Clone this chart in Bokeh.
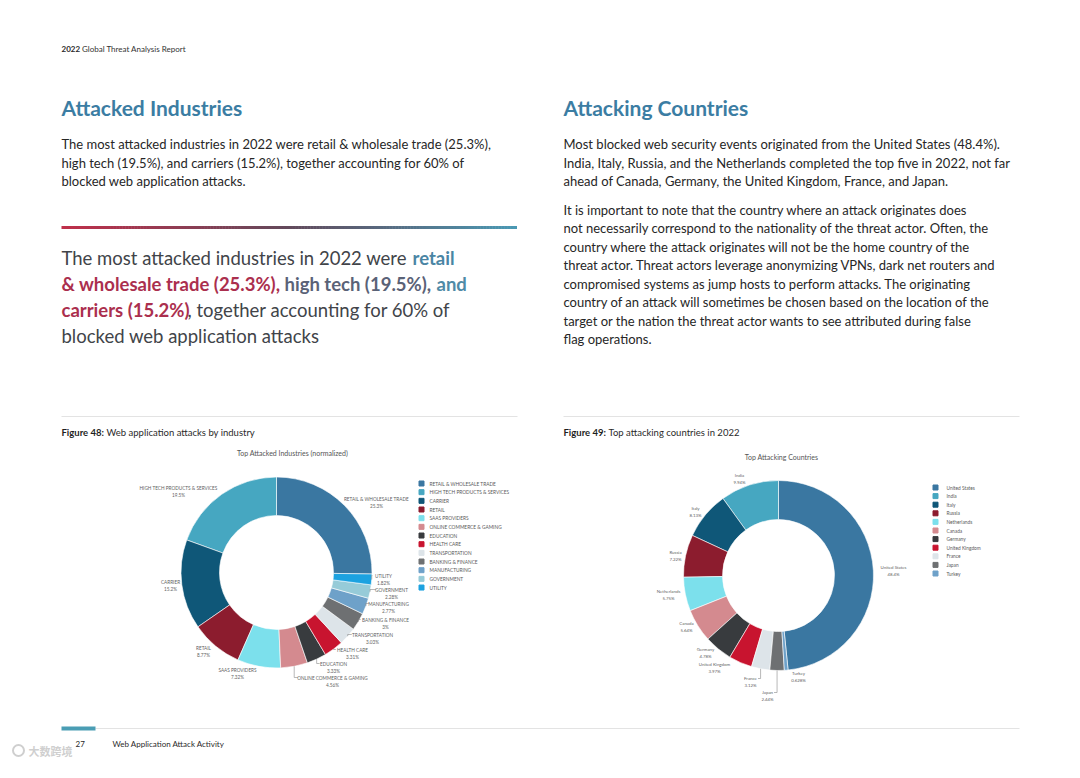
import numpy as np
from bokeh.plotting import figure
from bokeh.models import Range1d
from bokeh.core.properties import value
from bokeh.embed import file_html
from bokeh.resources import INLINE

# ---------------- data ----------------
industries = ["RETAIL & WHOLESALE TRADE", "HIGH TECH PRODUCTS & SERVICES", "CARRIER", "RETAIL",
              "SAAS PROVIDERS", "ONLINE COMMERCE & GAMING", "EDUCATION", "HEALTH CARE",
              "TRANSPORTATION", "BANKING & FINANCE", "MANUFACTURING", "GOVERNMENT", "UTILITY"]
industry_pct = [25.3, 19.5, 15.2, 8.77, 7.32, 4.56, 3.33, 3.31, 3.03, 3.0, 2.77, 2.28, 1.82]
industry_pct_labels = ["25.3%", "19.5%", "15.2%", "8.77%", "7.32%", "4.56%", "3.33%", "3.31%",
                       "3.03%", "3%", "2.77%", "2.28%", "1.82%"]

countries = ["United States", "India", "Italy", "Russia", "Netherlands", "Canada", "Germany",
             "United Kingdom", "France", "Japan", "Turkey"]
country_pct = [48.4, 9.94, 8.13, 7.22, 5.75, 5.64, 4.78, 3.97, 3.12, 2.44, 0.628]
country_pct_labels = ["48.4%", "9.94%", "8.13%", "7.22%", "5.75%", "5.64%", "4.78%", "3.97%",
                      "3.12%", "2.44%", "0.628%"]

palette = ["#3a77a1", "#46a7c1", "#0f5778", "#8c1c2e", "#7ce0ec", "#d48a8f", "#383b3e",
           "#c8142f", "#dde4e9", "#6e7072", "#6ea1c9", "#96cbd8", "#1ca2e0"]

# ---------------- layout (page pixel coordinates) ----------------
ind_label_pos = [(376, 498), (178, 487), (170, 581), (203, 647), (237, 669), (332, 677),
                 (333, 663), (352, 649), (372, 634), (385, 619), (388, 603), (391, 589), (383, 575)]
ind_leaders = [5, 6, 7, 8, 9, 10, 11, 12]
cty_label_pos = [(893, 567), (739, 475), (695, 508), (675, 552), (668, 591), (686, 623),
                 (705, 649), (714, 664), (750, 678), (767, 692), (798, 673)]
cty_leaders = [8, 9]

W, H = 1064, 762
FONT = "Lato"


def Y(py):
    return 778 - py


p = figure(width=W, height=H, x_range=Range1d(0, W), y_range=Range1d(778 - H, 778),
           output_backend="svg", toolbar_location=None, x_axis_location=None,
           y_axis_location=None, min_border=0)
p.grid.visible = False
p.outline_line_color = None
p.background_fill_color = "white"
p.border_fill_color = "white"


def T(x, py, s, size, color, style="normal", align="left", font=FONT):
    p.text(x=[x], y=[Y(py)], text=[s], text_font=value(font), text_font_size=f"{size}px",
           text_color=color, text_font_style=style, text_align=align, text_baseline="middle")


# ---------------- header / text ----------------
T(61, 48, "2022", 8, "#2a2a2a", "bold")
T(81.5, 48, "Global Threat Analysis Report", 8, "#333333")

HEAD = "#3b7da3"
BODY = "#262626"
T(61, 107, "Attacked Industries", 21, HEAD, "bold")
T(563, 107, "Attacking Countries", 21, HEAD, "bold")

left_par = ["The most attacked industries in 2022 were retail & wholesale trade (25.3%),",
            "high tech (19.5%), and carriers (15.2%), together accounting for 60% of",
            "blocked web application attacks."]
for s, py in zip(left_par, [143, 162, 180]):
    T(61, py, s, 13, BODY)

right_par = ["Most blocked web security events originated from the United States (48.4%).",
             "India, Italy, Russia, and the Netherlands completed the top five in 2022, not far",
             "ahead of Canada, Germany, the United Kingdom, France, and Japan.",
             "It is important to note that the country where an attack originates does",
             "not necessarily correspond to the nationality of the threat actor. Often, the",
             "country where the attack originates will not be the home country of the",
             "threat actor. Threat actors leverage anonymizing VPNs, dark net routers and",
             "compromised systems as jump hosts to perform attacks. The originating",
             "country of an attack will sometimes be chosen based on the location of the",
             "target or the nation the threat actor wants to see attributed during false",
             "flag operations."]
for s, py in zip(right_par, [143, 162, 180, 209, 227, 246, 264, 283, 301, 320, 338]):
    T(563, py, s, 13, BODY)

# gradient rule
stops = [(0.0, (192, 48, 75)), (0.5, (98, 74, 92)), (1.0, (74, 154, 181))]


def grad(t):
    for (t0, c0), (t1, c1) in zip(stops[:-1], stops[1:]):
        if t <= t1:
            f = (t - t0) / (t1 - t0)
            return "#%02x%02x%02x" % tuple(int(c0[k] + f * (c1[k] - c0[k])) for k in range(3))
    return "#%02x%02x%02x" % stops[-1][1]


nseg = 150
xs = np.linspace(61, 516, nseg + 1)
p.segment(x0=xs[:-1], y0=[Y(227)] * nseg, x1=xs[1:] + 0.5, y1=[Y(227)] * nseg,
          line_color=[grad(i / nseg) for i in range(nseg)], line_width=3)

# pull quote
GRAY = "#414449"
RED = "#ab2f4e"
T(61, 257, "The most attacked industries in 2022 were", 18.5, GRAY)
T(412, 257, "retail", 18.5, "#4a85a4", "bold")
T(61, 283, "& wholesale trade (25.3%),", 18.5, RED, "bold")
T(284, 283, "high tech (19.5%),", 18.5, "#5a6277", "bold")
T(436, 283, "and", 18.5, "#4f8aa6", "bold")
T(61, 309, "carriers (15.2%)", 18.5, RED, "bold")
T(187, 309, ", together accounting for 60% of", 18.5, GRAY)
T(61, 335, "blocked web application attacks", 18.5, GRAY)

# separators & captions
p.segment(x0=[61, 563], y0=[Y(416)] * 2, x1=[517, 1019], y1=[Y(416)] * 2,
          line_color="#e3e3e3", line_width=1)
T(61, 432, "Figure 48:", 9.5, "#1f1f1f", "bold")
T(106, 432, "Web application attacks by industry", 9.5, "#2a2a2a")
T(563, 432, "Figure 49:", 9.5, "#1f1f1f", "bold")
T(608, 432, "Top attacking countries in 2022", 9.5, "#2a2a2a")

T(292, 452, "Top Attacked Industries (normalized)", 7, "#555555", align="center")
T(781, 456, "Top Attacking Countries", 7, "#555555", align="center")


# ---------------- donuts ----------------
def donut(cx, cy, r_in, r_out, pcts, colors):
    vals = np.array(pcts, dtype=float)
    frac = vals / vals.sum()
    n = len(vals)
    order = list(range(1, n)) + [0]
    start = np.zeros(n)
    end = np.zeros(n)
    a = np.pi / 2
    for i in order:
        start[i] = a
        a += 2 * np.pi * frac[i]
        end[i] = a
    p.annular_wedge(x=cx, y=Y(cy), inner_radius=r_in, outer_radius=r_out,
                    start_angle=list(start), end_angle=list(end), color=colors,
                    line_color="white", line_width=0.6, direction="anticlock")
    return (start + end) / 2


def labels(names, pcts, pos, size, color="#5f5f5f"):
    for nm, pc, (x, py) in zip(names, pcts, pos):
        T(x, py, nm, size, color, align="center")
        T(x, py + 7, pc, size, color, align="center")


def leaders(cx, cy, r, mids, names, pos, idx, charw, side):
    for i in idx:
        px = cx + r * np.cos(mids[i])
        pyy = Y(cy) + r * np.sin(mids[i])
        lx, ly = pos[i]
        half = len(names[i]) * charw / 2 + 1.5
        ex = lx - half if side == "left" else lx + half
        if side == "left":
            ex = max(ex, px)
        else:
            ex = min(ex, px)
        p.line(x=[px, px, ex], y=[pyy, Y(ly), Y(ly)], line_color="#8a8a8a", line_width=0.6)


# left donut
lcx, lcy = 276, 572
mids_l = donut(lcx, lcy, 57, 95.5, industry_pct, palette[:len(industries)])
labels(industries, industry_pct_labels, ind_label_pos, 4.7)
leaders(lcx, lcy, 95.5, mids_l, industries, ind_label_pos, ind_leaders, 2.75, "left")

# left legend
lg_y = [483 + 8.67 * i for i in range(len(industries))]
p.rect(x=[421] * len(industries), y=[Y(v) for v in lg_y], width=5, height=5,
       color=palette[:len(industries)])
for nm, v in zip(industries, lg_y):
    T(429, v, nm, 4.8, "#5a5a5a")

# right donut
rcx, rcy = 778, 575
mids_r = donut(rcx, rcy, 56, 95, country_pct, palette[:len(countries)])
labels(countries, country_pct_labels, cty_label_pos, 4.4)
leaders(rcx, rcy, 95, mids_r, countries, cty_label_pos, cty_leaders, 2.0, "right")

rg_y = [487 + 8.6 * i for i in range(len(countries))]
p.rect(x=[935] * len(countries), y=[Y(v) for v in rg_y], width=5, height=5,
       color=palette[:len(countries)])
for nm, v in zip(countries, rg_y):
    T(946, v, nm, 4.8, "#5a5a5a")

# ---------------- footer ----------------
p.segment(x0=[95], y0=[Y(728)], x1=[1019], y1=[Y(728)], line_color="#e3e3e3", line_width=1)
p.segment(x0=[61], y0=[Y(728)], x1=[95], y1=[Y(728)], line_color="#4a9db4", line_width=4)

T(75, 743, "27", 8, "#2a2a2a")
T(112, 743, "Web Application Attack Activity", 8, "#2a2a2a")

# watermark
p.circle(x=[18], y=[Y(750)], radius=5.5, fill_color=None, line_color="#cfcfcf", line_width=2)
T(28, 750, "大数跨境", 11, "#cfcfcf", "bold", font="Noto Sans CJK SC")

open("out.html", "w").write(file_html(p, INLINE))
